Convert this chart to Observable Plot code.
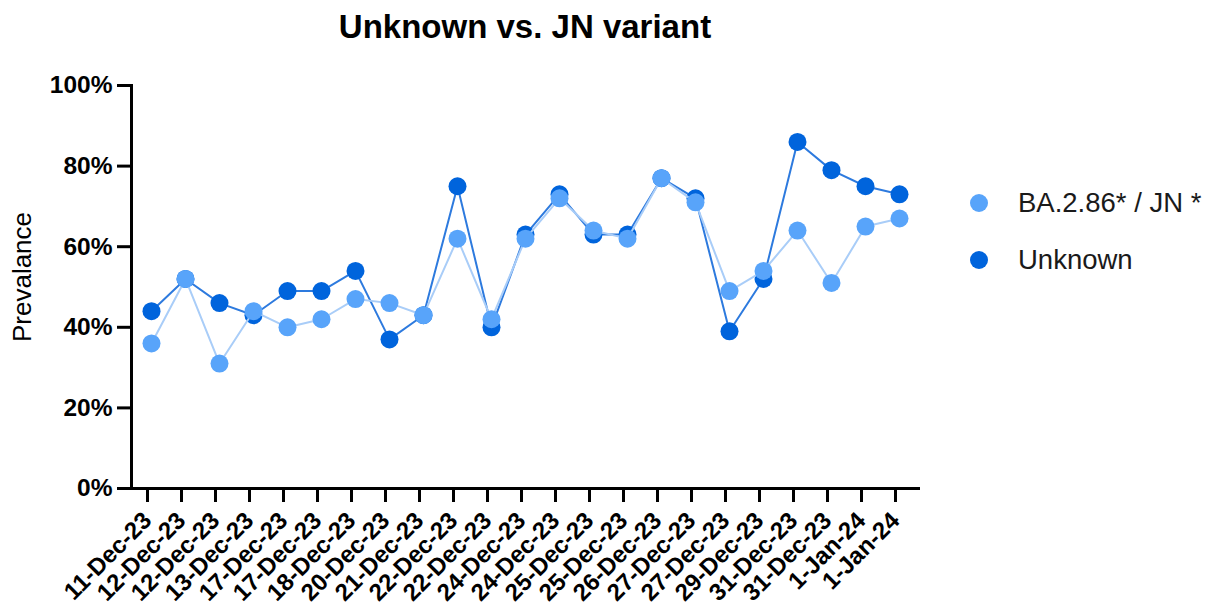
<!DOCTYPE html>
<html>
<head>
<meta charset="utf-8">
<script src="https://cdn.jsdelivr.net/npm/d3@7"></script>
<script src="https://cdn.jsdelivr.net/npm/@observablehq/plot@0.6"></script>
<style>
  body { margin: 0; background: #fff; }
  #wrap { position: relative; width: 1206px; height: 609px; font-family: "Liberation Sans", Arial, sans-serif; color: #000; overflow: hidden; }
  #title { position: absolute; left: 0; width: 1050px; top: 10px; line-height: 33px; text-align: center; font-weight: bold; font-size: 33px; }
  #chart { position: absolute; left: 0; top: 0; }
  #ylabel { position: absolute; left: 22px; top: 277px; transform: translate(-50%, -50%) rotate(-90deg); font-size: 26px; line-height: 26px; white-space: nowrap; }
  .leg { position: absolute; left: 970px; height: 40px; display: flex; align-items: center; font-size: 27.5px; color: #1a1a1a; white-space: nowrap; }
  .leg span.sw { display: inline-block; width: 18px; height: 18px; border-radius: 50%; margin-right: 30px; }
</style>
</head>
<body>
<div id="wrap">
  <div id="chart"></div>
  <div id="title"></div>
  <div id="ylabel"></div>
  <div id="legend"></div>
</div>
<script>
const title = "Unknown vs. JN variant";
const yLabel = "Prevalance";
const dateLabels = ["11-Dec-23","12-Dec-23","12-Dec-23","13-Dec-23","17-Dec-23","17-Dec-23","18-Dec-23","20-Dec-23","21-Dec-23","22-Dec-23","22-Dec-23","24-Dec-23","24-Dec-23","25-Dec-23","25-Dec-23","26-Dec-23","27-Dec-23","27-Dec-23","29-Dec-23","31-Dec-23","31-Dec-23","1-Jan-24","1-Jan-24"];
const seriesNames = ["BA.2.86* / JN *", "Unknown"];
const baValues = [36,52,31,44,40,42,47,46,43,62,42,62,72,64,62,77,71,49,54,64,51,65,67];
const unknownValues = [44,52,46,43,49,49,54,37,43,75,40,63,73,63,63,77,72,39,52,86,79,75,73];
const yTicks = [0,20,40,60,80,100];

const dotColors = { "BA.2.86* / JN *": "#58a4fa", "Unknown": "#0064dc" };
const lineColors = { "BA.2.86* / JN *": "#a9cdf8", "Unknown": "#2d7ade" };

const idx = dateLabels.map((_, i) => i);
const baData = idx.map(i => ({ i, v: baValues[i], s: seriesNames[0] }));
const unkData = idx.map(i => ({ i, v: unknownValues[i], s: seriesNames[1] }));

document.getElementById("title").textContent = title;
document.getElementById("ylabel").textContent = yLabel;

const chart = Plot.plot({
  width: 1206,
  height: 609,
  marginLeft: 131,
  marginRight: 286,
  marginTop: 85,
  marginBottom: 121,
  style: { fontFamily: '"Liberation Sans", Arial, sans-serif', color: "#000", background: "transparent" },
  x: { type: "point", domain: idx, range: [149, 901], padding: 0 },
  y: { domain: [0, 100] },
  marks: [
    Plot.axisY({ ticks: yTicks, tickFormat: d => d + "%", tickSize: 14, tickPadding: 5, strokeWidth: 3, fontSize: 24.5, fontWeight: "bold", label: null }),
    Plot.axisX({ ticks: idx, tickFormat: i => dateLabels[i], tickSize: 14, tickPadding: 14, dx: -4, tickRotate: -45, strokeWidth: 3, fontSize: 24, fontWeight: "bold", label: null }),
    Plot.frame({ anchor: "left", strokeWidth: 3 }),
    Plot.ruleY([0], { strokeWidth: 3 }),
    Plot.lineY(unkData, { x: "i", y: "v", stroke: lineColors["Unknown"], strokeWidth: 2 }),
    Plot.dot(unkData, { x: "i", y: "v", r: 9, fill: dotColors["Unknown"] }),
    Plot.lineY(baData, { x: "i", y: "v", stroke: lineColors["BA.2.86* / JN *"], strokeWidth: 2 }),
    Plot.dot(baData, { x: "i", y: "v", r: 9, fill: dotColors["BA.2.86* / JN *"] })
  ]
});
document.getElementById("chart").appendChild(chart);

const legend = document.getElementById("legend");
const legendTops = [183, 240];
seriesNames.forEach((name, k) => {
  const row = document.createElement("div");
  row.className = "leg";
  row.style.top = legendTops[k] + "px";
  const sw = document.createElement("span");
  sw.className = "sw";
  sw.style.background = dotColors[name];
  row.appendChild(sw);
  row.appendChild(document.createTextNode(name));
  legend.appendChild(row);
});
</script>
</body>
</html>
